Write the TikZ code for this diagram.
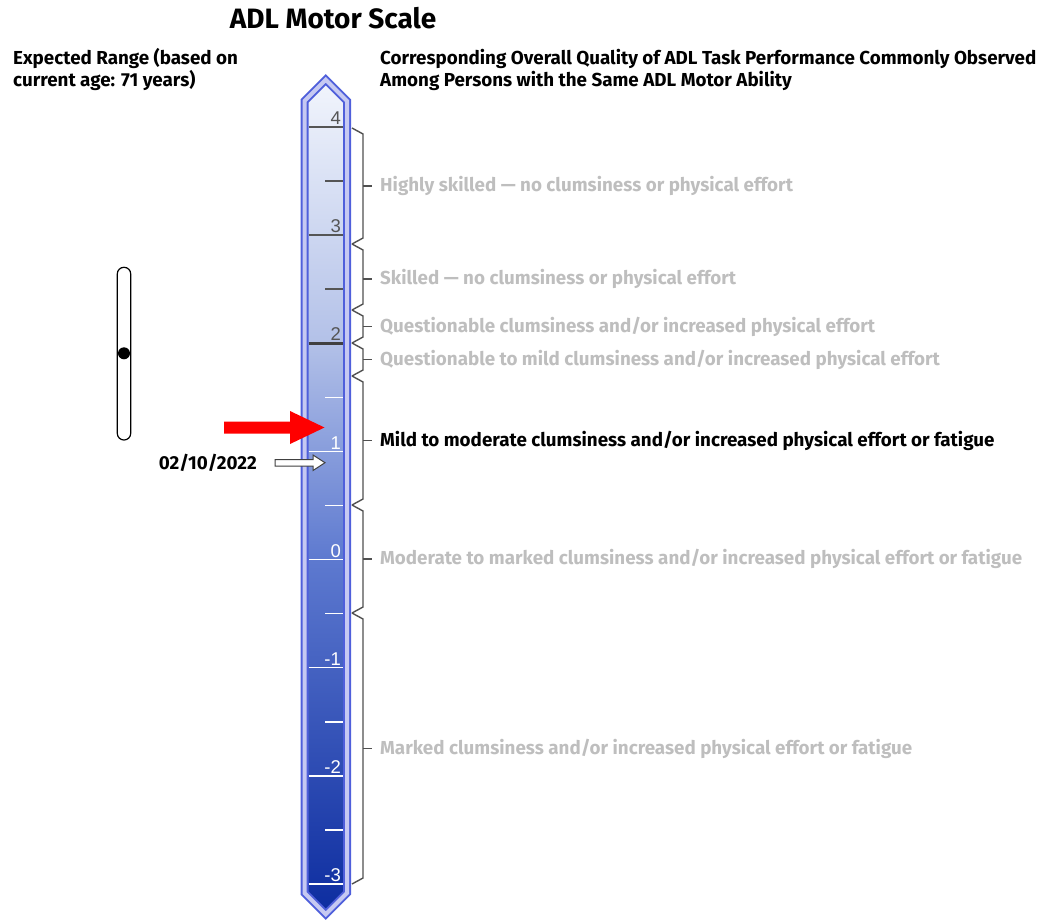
\documentclass[tikz,border=0pt]{standalone}
\usepackage{fontspec}
\setmainfont{Fira Sans}
\newfontfamily\numfont{Liberation Sans}
\begin{document}
\begin{tikzpicture}[x=1pt,y=-1pt]
\definecolor{tubeblue}{HTML}{4F5FDB}
\definecolor{tubeband}{HTML}{C6C9F2}
\definecolor{tickdark}{HTML}{555555}
\definecolor{labelgray}{HTML}{BEBEBE}
\definecolor{bracegray}{HTML}{505050}
\definecolor{shA}{HTML}{F4F7FD}
\definecolor{shB}{HTML}{B3C1E8}
\definecolor{shC}{HTML}{5E7AD0}
\definecolor{shD}{HTML}{0A2A9E}
\tikzset{
  headfont/.style={font=\bfseries\fontsize{18.8}{22}\selectfont, inner sep=0pt},
  lbl/.style={font=\bfseries\fontsize{18.8}{22}\selectfont, inner sep=0pt, anchor=west, text=labelgray},
  numlabel/.style={font=\numfont\fontsize{18.5}{21}\selectfont, inner sep=0pt, anchor=south east},
  bracestyle/.style={draw=bracegray, line width=1.4pt, line join=miter},
  majortick/.style={line width=1.5pt},
}
\useasboundingbox (0,0) rectangle (1056,921);
% title and headings
\node[font=\bfseries\fontsize{28}{32}\selectfont, inner sep=0pt] (title) at (333,18) {ADL Motor Scale};
\node[headfont, anchor=base west] (hl1) at (13,64) {Expected Range (based on};
\node[headfont, anchor=base west] (hl2) at (13,86) {current age: 71 years)};
\node[headfont, anchor=base west] (hr1) at (380,64) {Corresponding Overall Quality of ADL Task Performance Commonly Observed};
\node[headfont, anchor=base west] (hr2) at (380,86) {Among Persons with the Same ADL Motor Ability};
% tube
\def\tubepath{(304.5,101) -- (325.75,79.7) -- (347,101) -- (347,893) -- (325.75,914.3) -- (304.5,893) -- cycle}
\begin{scope}
  \clip \tubepath;
  \shade[top color=shA, bottom color=shB] (290,70) rectangle (360,342);
  \shade[top color=shB, bottom color=shC] (290,341.5) rectangle (360,557);
  \shade[top color=shC, bottom color=shD] (290,556.5) rectangle (360,925);
\end{scope}
\draw[tubeblue, line width=8pt, line join=miter] \tubepath;
\draw[tubeband, line width=4pt, line join=miter] \tubepath;
% ticks and numbers
\foreach \v/\c in {4/tickdark, 3/tickdark, 1/white, 0/white, -1/white, -2/white, -3/white}{
  \pgfmathsetmacro\yy{127+(4-\v)*108.14}
  \draw[\c, majortick] (308.5,\yy) -- (343,\yy);
  \node[numlabel, text=\c] (num\v) at (341,\yy-2) {\v};
}
\draw[draw=black!75, line width=2.5pt] (308.5,343.3) -- (343,343.3);
\node[numlabel, text=tickdark] (num2) at (341,340.8) {2};
\foreach \v/\c in {3.5/tickdark, 2.5/tickdark, 1.5/white, 0.5/white, -0.5/white, -1.5/white, -2.5/white}{
  \pgfmathsetmacro\yy{127+(4-\v)*108.14}
  \draw[\c, majortick] (325,\yy) -- (343,\yy);
}
% braces and labels
\foreach \yt/\yb/\ym/\nm in {128/244/186/b1, 244/310/279/b2, 310/343/326.5/b3, 343/376/359.5/b4, 376/505/440.5/b5, 505/613/559/b6, 613/884/748.5/b7}{
  \draw[bracestyle] (352,\yt) -- (363,\yt+6) -- (363,\yb-6) -- (352,\yb);
  \draw[bracestyle] (363,\ym) -- (372,\ym);
  \coordinate (\nm) at (380,\ym);
}
\node[lbl] (l1) at (b1) {Highly skilled — no clumsiness or physical effort};
\node[lbl] (l2) at (b2) {Skilled — no clumsiness or physical effort};
\node[lbl] (l3) at (b3) {Questionable clumsiness and/or increased physical effort};
\node[lbl] (l4) at (b4) {Questionable to mild clumsiness and/or increased physical effort};
\node[lbl, text=black] (l5) at (b5) {Mild to moderate clumsiness and/or increased physical effort or fatigue};
\node[lbl] (l6) at (b6) {Moderate to marked clumsiness and/or increased physical effort or fatigue};
\node[lbl] (l7) at (b7) {Marked clumsiness and/or increased physical effort or fatigue};
% expected range
\draw[black, line width=1.2pt, rounded corners=6.6pt] (117.3,267.3) rectangle (130.7,440) coordinate (rangebot);
\node[circle, fill=black, inner sep=0pt, minimum size=12pt] (dot) at (124,353.3) {};
% red arrow
\fill[red] (224,421.5) -- (290,421.5) -- (290,411) -- (324.5,427.5) -- (290,444) -- (290,433.5) -- (224,433.5) -- cycle;
% date arrow
\node[font=\bfseries\fontsize{18.8}{22}\selectfont, inner sep=0pt, anchor=east] (date) at (257,463) {02/10/2022};
\draw[fill=white, draw=black!75, line width=1pt, line join=miter] (275,459.5) -- (313,459.5) -- (313,455) -- (325,462.7) -- (313,470.5) -- (313,466) -- (275,466) -- cycle;
\end{tikzpicture}
\end{document}
